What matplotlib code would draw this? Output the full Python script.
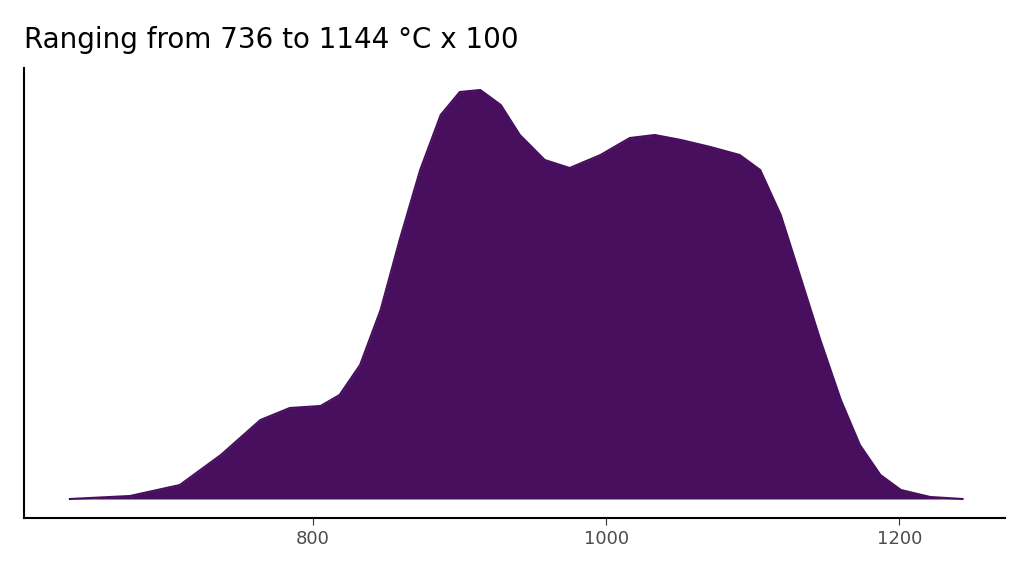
import matplotlib
matplotlib.use("Agg")
import matplotlib.pyplot as plt

# density curve (x in degC x 100, relative density)
temp = [634, 675, 709, 737, 764, 784, 805, 818, 832, 846, 859, 873, 887, 900,
        914, 928, 941, 958, 975, 996, 1016, 1033, 1051, 1071, 1091, 1105, 1119,
        1132, 1146, 1160, 1173, 1187, 1201, 1221, 1243]
dens = [0, 3, 14, 44, 79, 91, 93, 104, 134, 189, 259, 329, 384, 407,
        409, 394, 364, 339, 331, 344, 361, 364, 359, 352, 344, 329, 284,
        224, 159, 99, 54, 24, 9, 2, 0]
xticks = [800, 1000, 1200]

fig = plt.figure(figsize=(10.24, 5.76), dpi=100)
ax = fig.add_axes([24/1024, 1-518/576, (1005-24)/1024, (518-68)/576])
ax.fill_between(temp, dens, 0, color="#470F5D", lw=0)
ax.plot(temp, dens, color="#470F5D", lw=1.5)

ax.set_xlim(602.7, 1272)
ax.set_ylim(-19, 431)
ax.set_xticks(xticks)
ax.set_xticklabels([str(t) for t in xticks], color="#4d4d4d", fontsize=13)
ax.set_yticks([])
ax.tick_params(axis="x", length=5, color="#333333")
for s in ["top", "right"]:
    ax.spines[s].set_visible(False)
for s in ["left", "bottom"]:
    ax.spines[s].set_linewidth(1.5)

fig.text(24/1024, 1-48/576, "Ranging from 736 to 1144 °C x 100", fontsize=20,
         ha="left", va="baseline")
fig.savefig("out.png", dpi=100)
